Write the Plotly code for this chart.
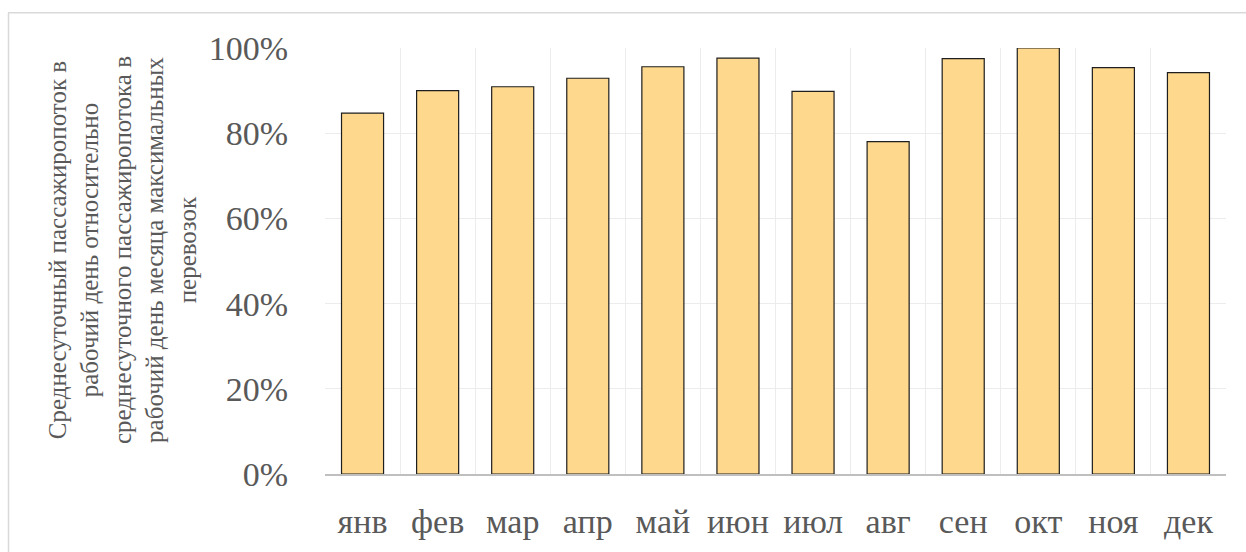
import plotly.graph_objects as go

# Monthly share of weekday average daily ridership vs. the peak month
months = ["янв", "фев", "мар", "апр", "май", "июн", "июл", "авг", "сен", "окт", "ноя", "дек"]
share = [0.847, 0.900, 0.909, 0.929, 0.956, 0.976, 0.898, 0.780, 0.975, 1.000, 0.954, 0.942]
y_ticks = [0, 0.2, 0.4, 0.6, 0.8, 1.0]

title_lines = [
    "Среднесуточный пассажиропоток в",
    "рабочий день относительно",
    "среднесуточного пассажиропотока в",
    "рабочий день месяца максимальных",
    "перевозок",
]

W, H = 1246, 552
L, R, T, B = 325, 20, 48, 76
pw, ph = W - L - R, H - T - B

serif = "Liberation Serif"
text_gray = "#595959"

fig = go.Figure(
    go.Bar(
        x=months,
        y=share,
        marker=dict(color="#fed88d", line=dict(color="#1e1e1e", width=1.2)),
        hoverinfo="x+y",
    )
)


def px_x(px):
    return (px - L) / pw


def px_y(py):
    return (H - B - py) / ph


# light frame around the chart area (top and left edges)
frame = dict(type="line", xref="paper", yref="paper", line=dict(color="#d9d9d9", width=1.5))
fig.add_shape(x0=px_x(8), x1=px_x(W + 5), y0=px_y(12.5), y1=px_y(12.5), **frame)
fig.add_shape(x0=px_x(8.5), x1=px_x(8.5), y0=px_y(12.5), y1=px_y(H + 5), **frame)

# rotated multi-line axis caption
fig.add_annotation(
    text="<br>".join(title_lines),
    xref="paper", yref="paper",
    x=px_x(122), y=px_y(251),
    xanchor="center", yanchor="middle",
    textangle=-90,
    showarrow=False,
    align="center",
    font=dict(family=serif, size=25, color=text_gray),
)

fig.update_layout(
    width=W, height=H,
    margin=dict(l=L, r=R, t=T, b=B, pad=0),
    paper_bgcolor="white",
    plot_bgcolor="white",
    bargap=0.44,
    showlegend=False,
    font=dict(family=serif, color=text_gray),
)

fig.update_xaxes(
    type="category",
    range=[-0.5, 11.5],
    tickson="boundaries",
    showgrid=True,
    gridcolor="#ececec",
    gridwidth=1,
    ticks="",
    showline=True,
    linecolor="#bfbfbf",
    linewidth=2,
    tickfont=dict(family=serif, size=34, color=text_gray),
    ticklabelstandoff=16,
    fixedrange=True,
)

fig.update_yaxes(
    range=[0, 1.0],
    tickvals=y_ticks,
    tickformat=".0%",
    showgrid=True,
    gridcolor="#ececec",
    gridwidth=1,
    zeroline=False,
    showline=False,
    ticks="",
    tickfont=dict(family=serif, size=34, color=text_gray),
    ticklabelstandoff=36,
    fixedrange=True,
)

fig.write_html("out.html")
